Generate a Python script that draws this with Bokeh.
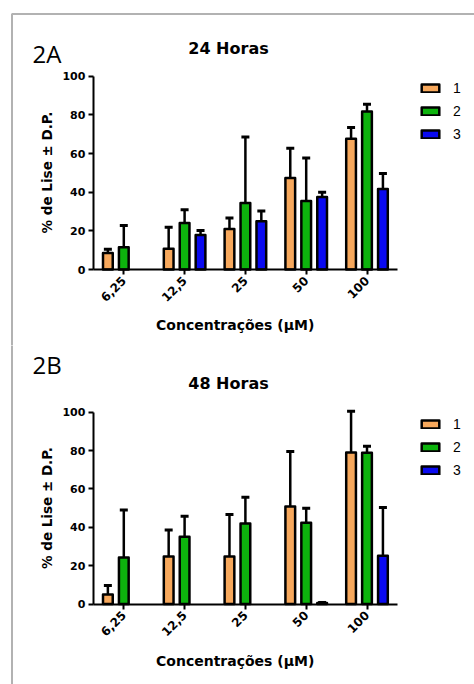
import math
from bokeh.plotting import figure
from bokeh.layouts import column
from bokeh.models import (ColumnDataSource, Range1d, FixedTicker, Whisker, TeeHead,
                          Label, Legend, LegendItem, LinearAxis, BoxAnnotation)
from bokeh.transform import dodge
from bokeh.embed import file_html
from bokeh.resources import INLINE

# ---------------- data ----------------
cats = ["6,25", "12,5", "25", "50", "100"]
series_names = ["1", "2", "3"]
colors = ["#F7A85C", "#0DB30D", "#0A0AF0"]
y_ticks = [0, 20, 40, 60, 80, 100]

# 24 Horas (mean, SD)
h24_s1 = [8.5, 10.7, 21.0, 47.3, 67.7]
h24_e1 = [2.0, 11.2, 5.6, 15.4, 5.7]
h24_s2 = [11.5, 24.0, 34.4, 35.4, 81.7]
h24_e2 = [11.3, 6.9, 34.1, 22.3, 3.8]
h24_s3 = [None, 17.9, 25.0, 37.5, 41.6]
h24_e3 = [None, 2.3, 5.2, 2.4, 8.1]

# 48 Horas (mean, SD)
h48_s1 = [4.9, 24.8, 24.8, 50.8, 79.0]
h48_e1 = [4.7, 13.8, 21.8, 28.7, 21.5]
h48_s2 = [24.3, 35.1, 42.0, 42.4, 78.8]
h48_e2 = [24.7, 10.6, 13.6, 7.5, 3.5]
h48_s3 = [None, None, None, 0.5, 25.2]
h48_e3 = [None, None, None, 0.3, 25.1]

BOLD = "DejaVu Sans"
W = 474            # canvas width (px)
PX_PER_CAT = 60.8  # px per category
AXIS_LEFT = 92.9   # px from canvas left to the y axis


def make_src(vals, errs):
    xs, tops, ups = [], [], []
    for i, (v, e) in enumerate(zip(vals, errs)):
        if v is None:
            continue
        xs.append(i)
        tops.append(v)
        ups.append(v + e)
    return ColumnDataSource(dict(x=xs, top=tops, upper=ups))


def make_panel(title, tag, series, height, y0_px, y100_px, frame_top,
               title_y, tag_y, ylab_y, xlab_y, legend_y):
    ppu = (y0_px - y100_px) / 100.0
    y_top = y0_px / ppu
    y_bot = -(height - y0_px) / ppu
    x_left = -0.5 - AXIS_LEFT / PX_PER_CAT
    x_right = -0.5 + (W - AXIS_LEFT) / PX_PER_CAT

    p = figure(x_range=Range1d(x_left, x_right), y_range=Range1d(y_bot, y_top),
               width=W, height=height, output_backend="svg", toolbar_location=None,
               x_axis_location=None, y_axis_location=None,
               min_border=0, min_border_left=0, min_border_right=0,
               min_border_top=0, min_border_bottom=0)
    p.outline_line_color = None
    p.xgrid.grid_line_color = None
    p.ygrid.grid_line_color = None
    p.background_fill_color = "white"
    p.border_fill_color = "white"

    xax = LinearAxis(fixed_location=0, bounds=(-0.5, len(cats) - 0.5),
                     ticker=FixedTicker(ticks=list(range(len(cats)))),
                     major_label_overrides={i: c for i, c in enumerate(cats)})
    yax = LinearAxis(fixed_location=-0.5, bounds=(0, 100),
                     ticker=FixedTicker(ticks=y_ticks))
    for ax in (xax, yax):
        ax.axis_line_width = 2
        ax.axis_line_color = "black"
        ax.major_tick_line_width = 2
        ax.major_tick_line_color = "black"
        ax.major_tick_out = 5
        ax.major_tick_in = 0
        ax.minor_tick_line_color = None
        ax.major_label_text_font = BOLD
        ax.major_label_text_font_style = "bold"
        ax.major_label_text_color = "black"
    yax.major_label_text_font_size = "11px"
    yax.major_label_standoff = 3
    xax.major_label_text_font_size = "12px"
    xax.major_label_orientation = math.pi / 4
    xax.major_label_standoff = 4
    p.add_layout(xax, "below")
    p.add_layout(yax, "left")

    offsets = [-0.262, 0.0, 0.262]
    items = []
    for (vals, errs), off, col, name in zip(series, offsets, colors, series_names):
        src = make_src(vals, errs)
        w = Whisker(base=dodge("x", off), lower="top", upper="upper",
                    source=src, line_width=2.5, line_color="black",
                    lower_head=None,
                    upper_head=TeeHead(size=8, line_width=3, line_color="black"))
        p.add_layout(w)
        r = p.vbar(x=dodge("x", off), top="top", bottom=0, width=0.16,
                   source=src, fill_color=col, line_color="black", line_width=2.5,
                   line_join="round")
        items.append(LegendItem(label=name, renderers=[r]))

    leg = Legend(items=items, location=(419, legend_y), glyph_width=22, glyph_height=10,
                 label_height=20, spacing=3, padding=0, margin=0, label_standoff=12,
                 label_text_font="Liberation Sans", label_text_font_size="14px",
                 label_text_color="black",
                 border_line_color=None, background_fill_alpha=0)
    p.add_layout(leg)

    # page frame (left / top edges; the other edges fall outside the canvas)
    p.add_layout(BoxAnnotation(left=11.5, right=5000, top=frame_top, bottom=-5000,
                               left_units="screen", right_units="screen",
                               top_units="screen", bottom_units="screen",
                               fill_alpha=0, line_color="black", line_width=2,
                               level="overlay"))

    p.add_layout(Label(x=228, y=title_y, x_units="screen", y_units="screen", text=title,
                       text_font=BOLD, text_font_style="bold", text_font_size="16px",
                       text_color="black",
                       text_align="center", text_baseline="alphabetic"))
    p.add_layout(Label(x=32, y=tag_y, x_units="screen", y_units="screen", text=tag,
                       text_font="Open Sans", text_font_size="24px", text_color="black",
                       text_align="left", text_baseline="alphabetic"))
    p.add_layout(Label(x=46, y=ylab_y, x_units="screen", y_units="screen",
                       text="% de Lise \u00b1 D.P.", angle=math.pi / 2,
                       text_font=BOLD, text_font_style="bold", text_font_size="13.5px",
                       text_color="black",
                       text_align="center", text_baseline="middle"))
    p.add_layout(Label(x=234.7, y=xlab_y, x_units="screen", y_units="screen",
                       text="Concentra\u00e7\u00f5es (\u03bcM)",
                       text_font=BOLD, text_font_style="bold", text_font_size="14px",
                       text_color="black",
                       text_align="center", text_baseline="alphabetic"))
    return p


# panel A: page rows 0..345 ; panel B: page rows 345..684
p1 = make_panel("24 Horas", "2A",
                [(h24_s1, h24_e1), (h24_s2, h24_e2), (h24_s3, h24_e3)],
                height=345, y0_px=269.0, y100_px=75.7, frame_top=331.5,
                title_y=297.5, tag_y=292.5, ylab_y=173, xlab_y=21, legend_y=201)
p2 = make_panel("48 Horas", "2B",
                [(h48_s1, h48_e1), (h48_s2, h48_e2), (h48_s3, h48_e3)],
                height=339, y0_px=258.5, y100_px=66.7, frame_top=5000,
                title_y=301.5, tag_y=320.5, ylab_y=176.4, xlab_y=24, legend_y=204)

layout = column(p1, p2, spacing=0)

html = file_html(layout, INLINE)
open("out.html", "w").write(html)
